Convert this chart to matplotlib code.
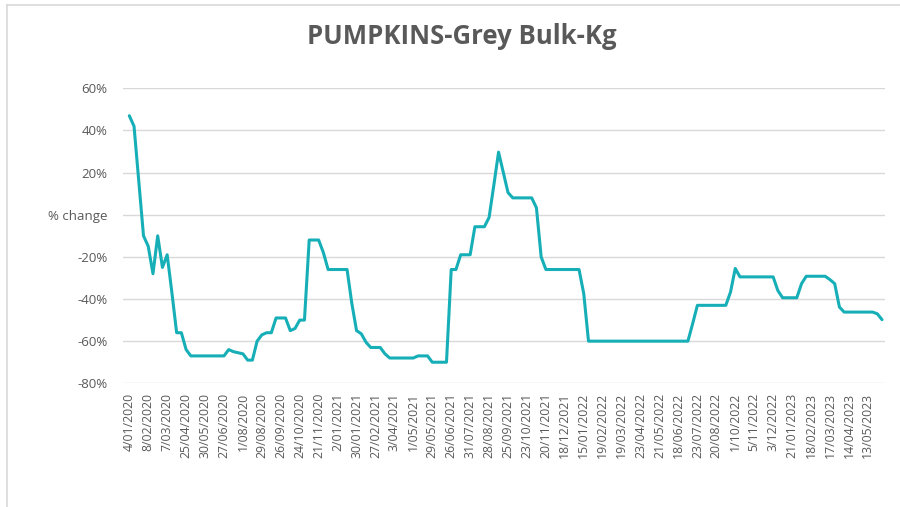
import matplotlib
matplotlib.use("Agg")
import matplotlib.pyplot as plt
from matplotlib.lines import Line2D

# ---- data ----
tick_labels = ["4/01/2020", "8/02/2020", "7/03/2020", "25/04/2020", "30/05/2020",
               "27/06/2020", "1/08/2020", "29/08/2020", "26/09/2020", "24/10/2020",
               "21/11/2020", "2/01/2021", "30/01/2021", "27/02/2021", "3/04/2021",
               "1/05/2021", "29/05/2021", "26/06/2021", "31/07/2021", "28/08/2021",
               "25/09/2021", "23/10/2021", "20/11/2021", "18/12/2021", "15/01/2022",
               "19/02/2022", "19/03/2022", "23/04/2022", "21/05/2022", "18/06/2022",
               "23/07/2022", "20/08/2022", "1/10/2022", "5/11/2022", "3/12/2022",
               "21/01/2023", "18/02/2023", "17/03/2023", "14/04/2023", "13/05/2023"]
label_step = 4

pct_change = [
    47, 42, 16, -10, -15, -28, -10, -25, -19, -37,            # 0-9
    -56, -56, -64, -67, -67, -67, -67, -67, -67, -67,          # 10-19
    -67, -64, -65, -65.5, -66, -69, -69, -60, -57, -56,        # 20-29
    -56, -49, -49, -49, -55, -54, -50, -50, -12, -12,          # 30-39
    -12, -18, -26, -26, -26, -26, -26, -42, -55, -56.5,        # 40-49
    -60.5, -63, -63, -63, -66, -68, -68, -68, -68, -68,        # 50-59
    -68, -67, -67, -67, -70, -70, -70, -70, -26, -26,          # 60-69
    -19, -19, -19, -5.7, -5.7, -5.7, -1.3, 14, 29.7, 20,       # 70-79
    10.5, 8, 8, 8, 8, 8, 3.3, -20, -26, -26,                   # 80-89
    -26, -26, -26, -26, -26, -26, -37.5, -60, -60, -60,        # 90-99
    -60, -60, -60, -60, -60, -60, -60, -60, -60, -60,          # 100-109
    -60, -60, -60, -60, -60, -60, -60, -60, -60, -51.7,        # 110-119
    -43, -43, -43, -43, -43, -43, -43, -36.7, -25.5, -29.5,    # 120-129
    -29.5, -29.5, -29.5, -29.5, -29.5, -29.5, -29.5, -36, -39.4, -39.4,  # 130-139
    -39.4, -39.4, -32.7, -29.2, -29.2, -29.2, -29.2, -29.2, -30.8, -32.7,  # 140-149
    -43.8, -46.2, -46.2, -46.2, -46.2, -46.2, -46.2, -46.2, -47, -49.8,    # 150-159
]

y_ticks = [60, 40, 20, 0, -20, -40, -60, -80]
y_tick_labels = ["60%", "40%", "20%", "% change", "-20%", "-40%", "-60%", "-80%"]

title = "PUMPKINS-Grey Bulk-Kg"

# ---- style ----
text_color = "#595959"
grid_color = "#d9d9d9"
line_color = "#17AFB7"
font = ["Open Sans", "DejaVu Sans"]

W, H = 900, 507
fig = plt.figure(figsize=(W / 100, H / 100), dpi=100)
fig.patch.set_facecolor("white")

left, right, top, bottom = 123, 885, 88.3, 383.3
ax = fig.add_axes([left / W, 1 - bottom / H, (right - left) / W, (bottom - top) / H])

x = list(range(len(pct_change)))
ax.plot(x, pct_change, color=line_color, linewidth=2.2, solid_joinstyle="round",
        solid_capstyle="round", zorder=3)

ax.set_ylim(-80, 60)
ax.set_xlim(-1.33, len(pct_change) - 1 + 0.63)
ax.set_yticks(y_ticks)
ax.set_yticklabels(y_tick_labels, fontfamily=font, fontsize=9.5, color=text_color)
ax.set_xticks(list(range(0, len(tick_labels) * label_step, label_step)))
ax.set_xticklabels(tick_labels, rotation=90, fontfamily=font, fontsize=8.8,
                   color=text_color, va="top", ha="center")
ax.tick_params(axis="both", length=0)
ax.tick_params(axis="y", pad=11)
ax.tick_params(axis="x", pad=7)
ax.grid(axis="y", color=grid_color, linewidth=1.0)
ax.set_axisbelow(True)
for s in ax.spines.values():
    s.set_visible(False)

fig.text(462 / W, 1 - 37 / H, title, ha="center", va="center", fontfamily=font,
         fontsize=18.5, fontweight="bold", color=text_color)

# outer frame of the chart area
fig.add_artist(Line2D([7 / W, 1], [1 - 5 / H, 1 - 5 / H], transform=fig.transFigure,
                      color=grid_color, linewidth=1.2))
fig.add_artist(Line2D([7 / W, 7 / W], [1 - 5 / H, 0], transform=fig.transFigure,
                      color=grid_color, linewidth=1.2))

fig.savefig("out.png", dpi=100, facecolor="white")
